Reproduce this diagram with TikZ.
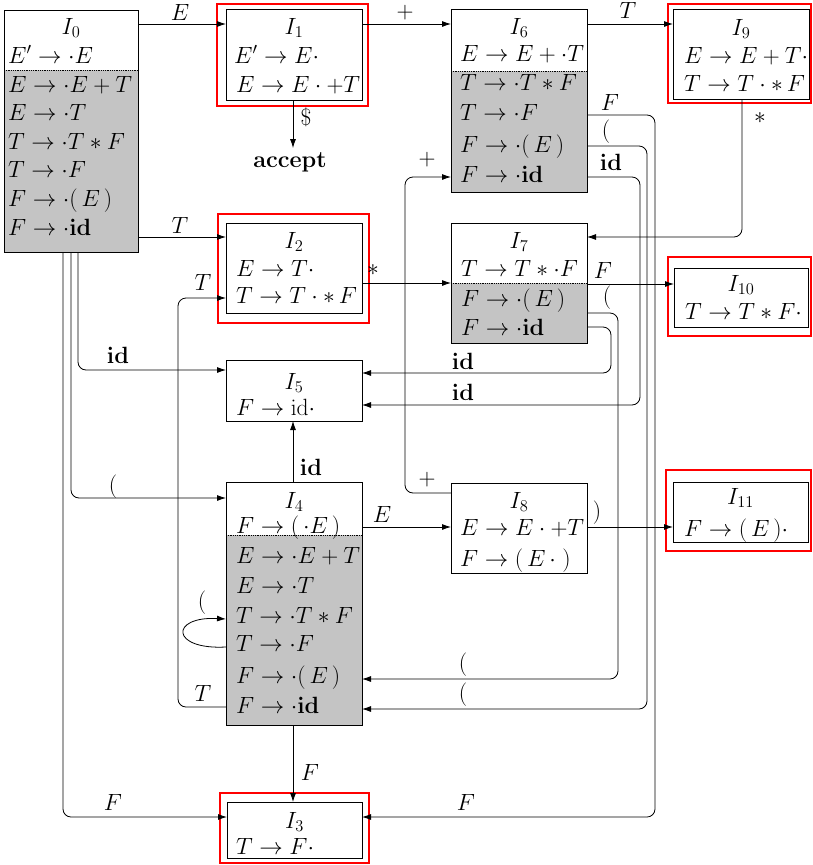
\RequirePackage{fix-cm}
\documentclass[tikz,border=0pt]{standalone}
\usetikzlibrary{arrows.meta,backgrounds}
\begin{document}
\begin{tikzpicture}[x=1pt,y=-1pt,
  box/.style={draw, line width=0.8pt, inner sep=0pt, outer sep=0pt, anchor=north west},
  redbox/.style={draw=red, line width=2.4pt},
  item/.style={anchor=west, inner sep=0pt, text height=17pt, text depth=4pt, font=\fontsize{23.5}{28}\selectfont},
  bitem/.style={item},
  ttl/.style={inner sep=0pt, font=\fontsize{23.5}{28}\selectfont},
  lbl/.style={inner sep=0pt, font=\fontsize{23.5}{28}\selectfont},
  arr/.style={-{Latex[length=9pt,width=6pt]}, line width=0.8pt, rounded corners=8pt},
  shadefill/.style={fill=black!23},
  sep/.style={densely dotted, line width=0.8pt},
]
\useasboundingbox (0,0) rectangle (812,865);

% ---------- boxes ----------
\node[box, minimum width=134pt, minimum height=242pt] (I0) at (4,10) {};
\node[box, minimum width=136pt, minimum height=91pt]  (I1) at (226,9) {};
\node[box, minimum width=136pt, minimum height=183pt] (I6) at (451,9) {};
\node[box, minimum width=136pt, minimum height=90pt]  (I9) at (673,9) {};
\node[box, minimum width=136pt, minimum height=90pt]  (I2) at (226,223) {};
\node[box, minimum width=136pt, minimum height=120pt] (I7) at (451,223) {};
\node[box, minimum width=134pt, minimum height=59pt]  (I10) at (674,268) {};
\node[box, minimum width=136pt, minimum height=61pt]  (I5) at (226,360) {};
\node[box, minimum width=136pt, minimum height=243pt] (I4) at (226,482) {};
\node[box, minimum width=136pt, minimum height=90pt]  (I8) at (451,483) {};
\node[box, minimum width=135pt, minimum height=60pt]  (I11) at (673,482) {};
\node[box, minimum width=135pt, minimum height=56pt]  (I3) at (227,802) {};

% ---------- shaded closure parts ----------
\begin{scope}[on background layer]
  \fill[shadefill] (I0.west |- 0,70) rectangle (I0.south east);
  \fill[shadefill] (I6.west |- 0,71) rectangle (I6.south east);
  \fill[shadefill] (I7.west |- 0,283) rectangle (I7.south east);
  \fill[shadefill] (I4.west |- 0,535) rectangle (I4.south east);
\end{scope}
\draw[sep] (I0.west |- 0,70) -- (I0.east |- 0,70);
\draw[sep] (I6.west |- 0,71) -- (I6.east |- 0,71);
\draw[sep] (I7.west |- 0,283) -- (I7.east |- 0,283);
\draw[sep] (I4.west |- 0,535) -- (I4.east |- 0,535);

% ---------- red frames ----------
\draw[redbox] (217,4) rectangle (368,106);
\draw[redbox] (668,4) rectangle (810.8,103);
\draw[redbox] (218,214) rectangle (369,323);
\draw[redbox] (668,257) rectangle (810.8,336);
\draw[redbox] (666,470) rectangle (810.8,551);
\draw[redbox] (220,793) rectangle (369,863);

% ---------- titles ----------
\node[ttl] (t0) at (I0.north |- 0,28) {$I_0$};
\node[ttl] (t1) at (I1.north |- 0,28) {$I_1$};
\node[ttl] (t6) at (I6.north |- 0,28) {$I_6$};
\node[ttl] (t9) at (I9.north |- 0,29) {$I_9$};
\node[ttl] (t2) at (I2.north |- 0,242) {$I_2$};
\node[ttl] (t7) at (I7.north |- 0,242) {$I_7$};
\node[ttl] (t10) at (I10.north |- 0,285) {$I_{10}$};
\node[ttl] (t5) at (I5.north |- 0,383) {$I_5$};
\node[ttl] (t4) at (I4.north |- 0,502) {$I_4$};
\node[ttl] (t8) at (I8.north |- 0,502) {$I_8$};
\node[ttl] (t11) at (I11.north |- 0,498) {$I_{11}$};
\node[ttl] (t3) at (I3.north |- 0,822) {$I_3$};

% ---------- items ----------
% I0
\node[item]  (i0a) at (8,57)  {$E'\rightarrow\cdot E$};
\node[bitem] (i0b) at (8,86)  {$E\rightarrow\cdot E+T$};
\node[bitem] (i0c) at (8,114) {$E\rightarrow\cdot T$};
\node[bitem] (i0d) at (8,143) {$T\rightarrow\cdot T*F$};
\node[bitem] (i0e) at (8,171) {$T\rightarrow\cdot F$};
\node[bitem] (i0f) at (8,200) {$F\rightarrow\cdot(\,E\,)$};
\node[bitem] (i0g) at (8,229) {$F\rightarrow\cdot\mathbf{id}$};
% I1
\node[item] (i1a) at (234,57) {$E'\rightarrow E\cdot$};
\node[item] (i1b) at (236,86) {$E\rightarrow E\cdot+T$};
% I6
\node[item]  (i6a) at (460,55)  {$E\rightarrow E+\cdot T$};
\node[bitem] (i6b) at (460,84)  {$T\rightarrow\cdot T*F$};
\node[bitem] (i6c) at (460,114) {$T\rightarrow\cdot F$};
\node[bitem] (i6d) at (460,146) {$F\rightarrow\cdot(\,E\,)$};
\node[bitem] (i6e) at (460,176) {$F\rightarrow\cdot\mathbf{id}$};
% I9
\node[item] (i9a) at (684,57) {$E\rightarrow E+T\cdot$};
\node[item] (i9b) at (684,85) {$T\rightarrow T\cdot{*}\,F$};
% I2
\node[item] (i2a) at (236,270) {$E\rightarrow T\cdot$};
\node[item] (i2b) at (236,297) {$T\rightarrow T\cdot{*}\,F$};
% I7
\node[item]  (i7a) at (461,270) {$T\rightarrow T*\cdot F$};
\node[bitem] (i7b) at (461,300) {$F\rightarrow\cdot(\,E\,)$};
\node[bitem] (i7c) at (461,329) {$F\rightarrow\cdot\mathbf{id}$};
% I10
\node[item] (i10a) at (685,313) {$T\rightarrow T*F\cdot$};
% I5
\node[item] (i5a) at (236,409) {$F\rightarrow\mathrm{id}\cdot$};
% I4
\node[item]  (i4a) at (236,527) {$F\rightarrow(\,\cdot E\,)$};
\node[bitem] (i4b) at (236,557) {$E\rightarrow\cdot E+T$};
\node[bitem] (i4c) at (236,587) {$E\rightarrow\cdot T$};
\node[bitem] (i4d) at (236,617) {$T\rightarrow\cdot T*F$};
\node[bitem] (i4e) at (236,645) {$T\rightarrow\cdot F$};
\node[bitem] (i4f) at (236,677) {$F\rightarrow\cdot(\,E\,)$};
\node[bitem] (i4g) at (236,707) {$F\rightarrow\cdot\mathbf{id}$};
% I8
\node[item] (i8a) at (460,529) {$E\rightarrow E\cdot+T$};
\node[item] (i8b) at (460,560) {$F\rightarrow(\,E\,\cdot\;)$};
% I11
\node[item] (i11a) at (684,530) {$F\rightarrow(\,E\,)\cdot$};
% I3
\node[item] (i3a) at (236,848) {$T\rightarrow F\cdot$};

% accept
\node[lbl, font=\fontsize{23.5}{28}\selectfont\bfseries, inner sep=4pt] (acc) at (290,162) {accept};

% ---------- connectors ----------
\draw[arr] (I0.east |- 0,24) -- (I1.west |- 0,24);
\draw[arr] (I1.east |- 0,24) -- (I6.west |- 0,24);
\draw[arr] (I6.east |- 0,24) -- (I9.west |- 0,24);
\draw[arr] (I1.south -| 293,0) -- (acc.north -| 293,0);
\draw[arr] (I0.east |- 0,237) -- (I2.west |- 0,237);
\draw[arr] (I9.south -| 742,0) |- (I7.east |- 0,237);
\draw[arr] (I2.east |- 0,283) -- (I7.west |- 0,283);
\draw[arr] (I7.east |- 0,284) -- (I10.west |- 0,284);
\draw[arr] (I6.east |- 0,115) -| (655,817) -- (I3.east |- 0,817);
\draw[arr] (I6.east |- 0,146) -| (647,709) -- (I4.east |- 0,709);
\draw[arr] (I6.east |- 0,177) -| (640,405) -- (I5.east |- 0,405);
\draw[arr] (I7.east |- 0,313) -| (618,679) -- (I4.east |- 0,679);
\draw[arr] (I7.east |- 0,327) -| (611,373) -- (I5.east |- 0,373);
\draw[arr] (I0.south -| 78,0) |- (I5.west |- 0,370);
\draw[arr] (I0.south -| 71,0) |- (I4.west |- 0,498);
\draw[arr] (I0.south -| 63,0) |- (I3.west |- 0,817);
\draw[arr] (I4.west |- 0,707) -| (178,298) -- (I2.west |- 0,298);
\draw[arr] (I4.west |- 0,647) .. controls (170,650) and (170,616) .. (I4.west |- 0,619);
\draw[arr] (I4.north -| 293,0) -- (I5.south -| 293,0);
\draw[arr] (I4.east |- 0,527) -- (I8.west |- 0,527);
\draw[arr] (I8.west |- 0,493) -| (405,177) -- (I6.west |- 0,177);
\draw[arr] (I8.east |- 0,527) -- (I11.west |- 0,527);
\draw[arr] (I4.south -| 293,0) -- (I3.north -| 293,0);

% ---------- labels ----------
\node[lbl] (lE1) at (180,12) {$E$};
\node[lbl] (lP1) at (405,13) {$+$};
\node[lbl] (lT1) at (628,10) {$T$};
\node[lbl] (lD) at (306,117) {$\$$};
\node[lbl] (lT2) at (180,225) {$T$};
\node[lbl] (lS1) at (760,118) {$*$};
\node[lbl] (lS2) at (373,270) {$*$};
\node[lbl] (lF1) at (603,270) {$F$};
\node[lbl] (lF2) at (610,102) {$F$};
\node[lbl] (lL1) at (606,132) {$($};
\node[lbl] (li1) at (611,162) {$\mathbf{id}$};
\node[lbl] (lL2) at (607,298) {$($};
\node[lbl] (li2) at (463,361) {$\mathbf{id}$};
\node[lbl] (li3) at (463,392) {$\mathbf{id}$};
\node[lbl] (lL3) at (463,665) {$($};
\node[lbl] (lL4) at (463,695) {$($};
\node[lbl] (li4) at (118,355) {$\mathbf{id}$};
\node[lbl] (lL5) at (113,487) {$($};
\node[lbl] (lF3) at (113,802) {$F$};
\node[lbl] (lT3) at (203,282) {$T$};
\node[lbl] (lT4) at (203,693) {$T$};
\node[lbl] (lL6) at (202,603) {$($};
\node[lbl] (li5) at (311,467) {$\mathbf{id}$};
\node[lbl] (lE2) at (382,514) {$E$};
\node[lbl] (lP2) at (427,480) {$+$};
\node[lbl] (lP3) at (427,160) {$+$};
\node[lbl] (lR) at (597,513) {$)$};
\node[lbl] (lF4) at (310,772) {$F$};
\node[lbl] (lF5) at (466,802) {$F$};
\end{tikzpicture}
\end{document}
